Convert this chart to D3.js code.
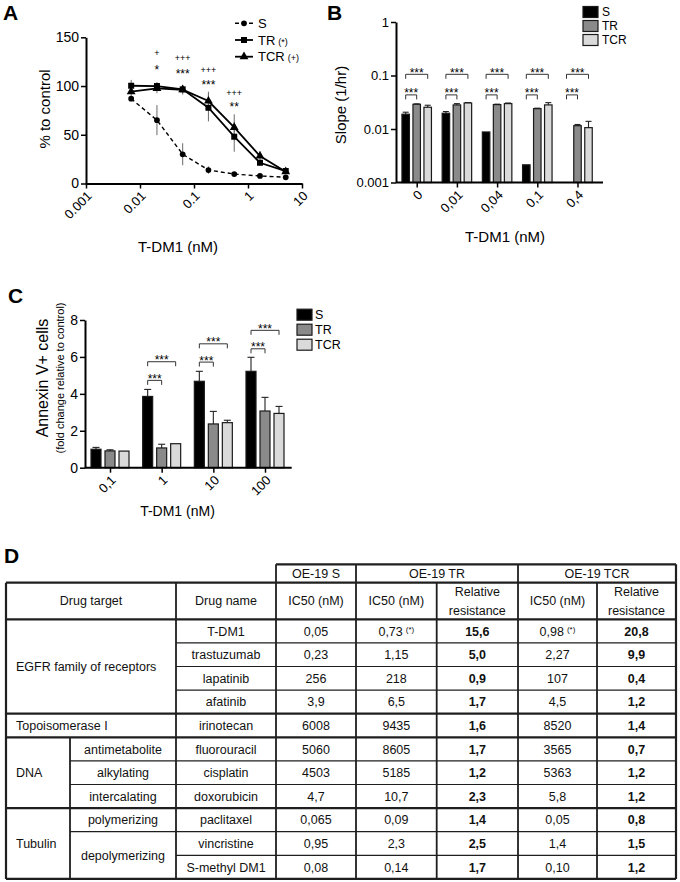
<!DOCTYPE html>
<html><head><meta charset="utf-8">
<script src="https://cdn.jsdelivr.net/npm/d3@7"></script>
<style>body{margin:0;background:#fff} svg{display:block} text{font-family:"Liberation Sans",Arial,sans-serif}</style>
</head><body><svg id="c" width="680" height="882"></svg>
<script>
// ---------------- DATA ----------------
// Panel A: dose-response (% to control)
const concA = [0.00686, 0.0206, 0.0617, 0.185, 0.556, 1.667, 5];
const meanA_S = [87, 65, 30, 13.8, 9.7, 7.7, 6.4];
const errA_S = [2, 15.4, 11.3, 3.8, 1.5, 1, 1];
const meanA_TR = [100.3, 100, 96.6, 77.7, 48, 21.3, 12.8];
const errA_TR = [6, 4, 4, 14, 15.4, 3, 2];
const meanA_TCR = [94.2, 97.6, 96.2, 84.6, 57.6, 28.2, 12.1];
const errA_TCR = [5, 5, 5, 9.6, 13.4, 5, 2];
const ticksA_x = [0.001, 0.01, 0.1, 1, 10];
const tickLabelsA_x = ["0.001", "0.01", "0.1", "1", "10"];
const ticksA_y = [0, 50, 100, 150];
const sigConcA = [0.0206, 0.0617, 0.185, 0.556];
const sigPlusA = ["+", "+++", "+++", "+++"];
const sigPlusYA = [134, 129, 116.4, 93.1];
const sigStarA = ["*", "***", "***", "**"];
const sigStarYA = [119.8, 115.7, 104.4, 81.5];

// Panel B: growth slope (1/hr), log scale
const catsB = ["0", "0,01", "0,04", "0,1", "0,4"];
const valB_S = [0.0189, 0.0197, 0.0088, 0.00214, null];
const errB_S = [0.0017, 0.0015, 0, 0, 0];
const valB_TR = [0.029, 0.0282, 0.0286, 0.024, 0.01153];
const errB_TR = [0.0005, 0.0016, 0.0005, 0.0005, 0.0006];
const valB_TCR = [0.0255, 0.0307, 0.0298, 0.0282, 0.0106];
const errB_TCR = [0.0023, 0.0005, 0.0008, 0.0029, 0.0033];
const ticksB_y = [0.001, 0.01, 0.1, 1];
const tickLabelsB_y = ["0.001", "0.01", "0.1", "1"];
const brkB_low = [0.0434, 0.0434, 0.0434, 0.0434, 0.0434];
const brkB_high = [0.1053, 0.1053, 0.1053, 0.1053, 0.1053];

// Panel C: Annexin V+ cells (fold change)
const catsC = ["0,1", "1", "10", "100"];
const valC_S = [1.0, 3.86, 4.68, 5.22];
const errC_S = [0.1, 0.38, 0.54, 0.76];
const valC_TR = [0.91, 1.07, 2.37, 3.07];
const errC_TR = [0.06, 0.2, 0.68, 0.74];
const valC_TCR = [0.9, 1.3, 2.44, 2.94];
const errC_TCR = [0, 0, 0.13, 0.38];
const ticksC_y = [0, 2, 4, 6, 8];
const brkC_groups = [1, 2, 3];
const brkC_low = [4.73, 5.72, 6.44];
const brkC_high = [5.74, 6.71, 7.44];

const seriesNames = ["S", "TR", "TCR"];
const seriesFill = ["#000000", "#8a8a8a", "#dadada"];

// Panel D: table
const targetGroups = ["EGFR family of receptors", "Topoisomerase I", "DNA", "Tubulin"];
const targetStart = [0, 4, 5, 8];
const targetRows = [4, 1, 3, 3];
const subTargets = ["antimetabolite", "alkylating", "intercalating", "polymerizing", "depolymerizing"];
const subStart = [5, 6, 7, 8, 9];
const subRows = [1, 1, 1, 1, 2];
const drugNames = ["T-DM1", "trastuzumab", "lapatinib", "afatinib", "irinotecan", "fluorouracil", "cisplatin", "doxorubicin", "paclitaxel", "vincristine", "S-methyl DM1"];
const icS = ["0,05", "0,23", "256", "3,9", "6008", "5060", "4503", "4,7", "0,065", "0,95", "0,08"];
const icTR = ["0,73", "1,15", "218", "6,5", "9435", "8605", "5185", "10,7", "0,09", "2,3", "0,14"];
const rrTR = ["15,6", "5,0", "0,9", "1,7", "1,6", "1,7", "1,2", "2,3", "1,4", "2,5", "1,7"];
const icTCR = ["0,98", "2,27", "107", "4,5", "8520", "3565", "5363", "5,8", "0,05", "1,4", "0,10"];
const rrTCR = ["20,8", "9,9", "0,4", "1,2", "1,4", "0,7", "1,2", "1,2", "0,8", "1,5", "1,2"];
const noteTR = ["(*)", "", "", "", "", "", "", "", "", "", ""];
const noteTCR = ["(*)", "", "", "", "", "", "", "", "", "", ""];
const headerGroups = ["OE-19 S", "OE-19 TR", "OE-19 TCR"];

// ---------------- DRAWING ----------------
const svg = d3.select("#c");
const FONT = '"Liberation Sans", Arial, sans-serif';

function panelLabel(t, x, y) {
  svg.append("text").attr("x", x).attr("y", y).attr("font-size", 21)
    .attr("font-weight", "bold").attr("fill", "#000").text(t);
}
function styleAxis(g, fs) {
  g.select(".domain").attr("stroke", "#000").attr("stroke-width", 2);
  g.selectAll(".tick line").attr("stroke", "#000").attr("stroke-width", 1.5);
  g.selectAll(".tick text").attr("font-size", fs).attr("fill", "#000").attr("font-family", FONT);
}
function rotTicks(g) {
  g.selectAll(".tick text").attr("x", 0).attr("y", 0).attr("dy", "0.35em")
    .attr("transform", "translate(3,10) rotate(-45)").attr("text-anchor", "end");
}
function bracket(g, x1, x2, y, label) {
  g.append("path").attr("d", `M${x1},${y + 4.5}V${y}H${x2}V${y + 4.5}`)
    .attr("fill", "none").attr("stroke", "#333").attr("stroke-width", 1);
  g.append("text").attr("x", (x1 + x2) / 2).attr("y", y + 2.5).attr("text-anchor", "middle")
    .attr("font-size", 12).attr("fill", "#000").text(label);
}

// ===== Panel A =====
panelLabel("A", 3, 20);
const xA = d3.scaleLog().domain([0.001, 10]).range([86, 302]);
const yA = d3.scaleLinear().domain([0, 150]).range([183.5, 37.3]);
const gA = svg.append("g");
const axAx = gA.append("g").attr("transform", `translate(0,${yA(0)})`)
  .call(d3.axisBottom(xA).tickValues(ticksA_x).tickFormat((d, i) => tickLabelsA_x[i]).tickSize(5).tickSizeOuter(0));
styleAxis(axAx, 13); rotTicks(axAx);
const axAy = gA.append("g").attr("transform", `translate(${xA(0.001)},0)`)
  .call(d3.axisLeft(yA).tickValues(ticksA_y).tickSize(5).tickPadding(2).tickSizeOuter(0));
styleAxis(axAy, 14);
gA.append("text").attr("transform", `translate(50,109) rotate(-90)`).attr("text-anchor", "middle")
  .attr("font-size", 15).text("% to control");
gA.append("text").attr("x", 178).attr("y", 252).attr("text-anchor", "middle")
  .attr("font-size", 15).text("T-DM1 (nM)");

const seriesA = [
  { m: meanA_S, e: errA_S, dash: "4,3", w: 1.4, mk: "circle" },
  { m: meanA_TR, e: errA_TR, dash: null, w: 1.8, mk: "square" },
  { m: meanA_TCR, e: errA_TCR, dash: null, w: 1.8, mk: "triangle" }
];
seriesA.forEach(s => {
  concA.forEach((c, i) => {
    gA.append("line").attr("x1", xA(c)).attr("x2", xA(c))
      .attr("y1", yA(s.m[i] - s.e[i])).attr("y2", yA(s.m[i] + s.e[i]))
      .attr("stroke", "#6a6a6a").attr("stroke-width", 1);
  });
});
const lineA = d3.line().x(d => xA(d[0])).y(d => yA(d[1]));
seriesA.forEach(s => {
  gA.append("path").attr("d", lineA(concA.map((c, i) => [c, s.m[i]])))
    .attr("fill", "none").attr("stroke", "#000").attr("stroke-width", s.w)
    .attr("stroke-dasharray", s.dash);
});
const symMap = { circle: d3.symbolCircle, square: d3.symbolSquare, triangle: d3.symbolTriangle };
const symSize = { circle: 26, square: 36, triangle: 34 };
seriesA.forEach(s => {
  concA.forEach((c, i) => {
    gA.append("path").attr("d", d3.symbol(symMap[s.mk], symSize[s.mk])())
      .attr("transform", `translate(${xA(c)},${yA(s.m[i])})`).attr("fill", "#000");
  });
});
sigConcA.forEach((c, i) => {
  gA.append("text").attr("x", xA(c)).attr("y", yA(sigPlusYA[i]) + 3.2).attr("text-anchor", "middle")
    .attr("font-size", 9).attr("fill", "#000").text(sigPlusA[i]);
  gA.append("text").attr("x", xA(c)).attr("y", yA(sigStarYA[i]) + 7).attr("text-anchor", "middle")
    .attr("font-size", 12).attr("fill", "#000").text(sigStarA[i]);
});
// legend A
const legA = gA.append("g");
const legNotes = ["", "(*)", "(+)"];
seriesA.forEach((s, i) => {
  const y = 23.3 + i * 16.7;
  legA.append("line").attr("x1", 235).attr("x2", 253).attr("y1", y).attr("y2", y)
    .attr("stroke", "#000").attr("stroke-width", s.w).attr("stroke-dasharray", s.dash);
  legA.append("path").attr("d", d3.symbol(symMap[s.mk], symSize[s.mk])())
    .attr("transform", `translate(244,${y})`).attr("fill", "#000");
  const t = legA.append("text").attr("x", 258).attr("y", y).attr("dy", "0.36em").attr("font-size", 13).text(seriesNames[i]);
  if (legNotes[i]) t.append("tspan").attr("font-size", 9).attr("dx", 3).text(legNotes[i]);
});

// ===== Panel B =====
panelLabel("B", 327, 20);
const yB = d3.scaleLog().domain([0.001, 1]).range([182.5, 22]);
const xB = d3.scalePoint().domain(catsB).range([416.7, 577.5]);
const gB = svg.append("g");
const offB = [-11, 0, 11], bwB = 7.5;
const valsB = [valB_S, valB_TR, valB_TCR], errsB = [errB_S, errB_TR, errB_TCR];
valsB.forEach((vals, s) => {
  vals.forEach((v, i) => {
    if (v == null) return;
    const cx = xB(catsB[i]) + offB[s];
    const e = errsB[s][i];
    if (e > 0) {
      gB.append("line").attr("x1", cx).attr("x2", cx).attr("y1", yB(v)).attr("y2", yB(v + e))
        .attr("stroke", "#222").attr("stroke-width", 1.1);
      gB.append("line").attr("x1", cx - 3).attr("x2", cx + 3).attr("y1", yB(v + e)).attr("y2", yB(v + e))
        .attr("stroke", "#222").attr("stroke-width", 1.1);
    }
    gB.append("rect").attr("x", cx - bwB / 2).attr("width", bwB)
      .attr("y", yB(v)).attr("height", yB(0.001) - yB(v))
      .attr("fill", seriesFill[s]).attr("stroke", "#1a1a1a").attr("stroke-width", 1.2);
  });
});
const axBx = gB.append("g").attr("transform", `translate(0,${yB(0.001)})`)
  .call(d3.axisBottom(xB).tickSize(5).tickSizeOuter(0));
axBx.select(".domain").remove();
styleAxis(axBx, 13); rotTicks(axBx);
gB.append("line").attr("x1", 396).attr("x2", 603).attr("y1", yB(0.001)).attr("y2", yB(0.001))
  .attr("stroke", "#000").attr("stroke-width", 2);
const axBy = gB.append("g").attr("transform", "translate(396,0)")
  .call(d3.axisLeft(yB).tickValues(ticksB_y).tickFormat((d, i) => tickLabelsB_y[i]).tickSize(5).tickPadding(2).tickSizeOuter(0));
styleAxis(axBy, 13);
gB.append("text").attr("transform", "translate(346,105) rotate(-90)").attr("text-anchor", "middle")
  .attr("font-size", 15).text("Slope (1/hr)");
gB.append("text").attr("x", 505).attr("y", 242).attr("text-anchor", "middle")
  .attr("font-size", 15).text("T-DM1 (nM)");
catsB.forEach((c, i) => {
  const x0 = xB(c) + offB[0], x1 = xB(c) + offB[1], x2 = xB(c) + offB[2];
  bracket(gB, x0, x2, yB(brkB_high[i]), "***");
  bracket(gB, x0, x1, yB(brkB_low[i]), "***");
});
seriesNames.forEach((n, i) => {
  const y = 12 + i * 14;
  gB.append("rect").attr("x", 583).attr("y", y - 5.5).attr("width", 15).attr("height", 11)
    .attr("fill", seriesFill[i]).attr("stroke", "#1a1a1a").attr("stroke-width", 1.2);
  gB.append("text").attr("x", 602).attr("y", y).attr("dy", "0.36em").attr("font-size", 12).text(n);
});

// ===== Panel C =====
panelLabel("C", 8, 303);
const yC = d3.scaleLinear().domain([0, 8]).range([467.7, 320]);
const xC = d3.scalePoint().domain(catsC).range([110, 265]);
const gC = svg.append("g");
const offC = [-14, 0, 14], bwC = 10;
const valsC = [valC_S, valC_TR, valC_TCR], errsC = [errC_S, errC_TR, errC_TCR];
valsC.forEach((vals, s) => {
  vals.forEach((v, i) => {
    const cx = xC(catsC[i]) + offC[s];
    const e = errsC[s][i];
    if (e > 0) {
      gC.append("line").attr("x1", cx).attr("x2", cx).attr("y1", yC(v)).attr("y2", yC(v + e))
        .attr("stroke", "#222").attr("stroke-width", 1.1);
      gC.append("line").attr("x1", cx - 3.5).attr("x2", cx + 3.5).attr("y1", yC(v + e)).attr("y2", yC(v + e))
        .attr("stroke", "#222").attr("stroke-width", 1.1);
    }
    gC.append("rect").attr("x", cx - bwC / 2).attr("width", bwC)
      .attr("y", yC(v)).attr("height", yC(0) - yC(v))
      .attr("fill", seriesFill[s]).attr("stroke", "#1a1a1a").attr("stroke-width", 1.2);
  });
});
const axCx = gC.append("g").attr("transform", `translate(0,${yC(0)})`)
  .call(d3.axisBottom(xC).tickSize(5).tickSizeOuter(0));
axCx.select(".domain").remove();
styleAxis(axCx, 13); rotTicks(axCx);
gC.append("line").attr("x1", 85).attr("x2", 291.7).attr("y1", yC(0)).attr("y2", yC(0))
  .attr("stroke", "#000").attr("stroke-width", 2);
const axCy = gC.append("g").attr("transform", "translate(85,0)")
  .call(d3.axisLeft(yC).tickValues(ticksC_y).tickSize(5).tickPadding(2).tickSizeOuter(0));
styleAxis(axCy, 14);
gC.append("text").attr("transform", "translate(48,378) rotate(-90)").attr("text-anchor", "middle")
  .attr("font-size", 16).text("Annexin V+ cells");
gC.append("text").attr("transform", "translate(64,378) rotate(-90)").attr("text-anchor", "middle")
  .attr("font-size", 11).text("(fold change relative to control)");
gC.append("text").attr("x", 177.5).attr("y", 516).attr("text-anchor", "middle")
  .attr("font-size", 14).text("T-DM1 (nM)");
brkC_groups.forEach((gi, k) => {
  const c = catsC[gi];
  bracket(gC, xC(c) + offC[0], xC(c) + offC[1], yC(brkC_low[k]), "***");
  bracket(gC, xC(c) + offC[0], xC(c) + offC[2], yC(brkC_high[k]), "***");
});
seriesNames.forEach((n, i) => {
  const y = 314.7 + i * 15;
  gC.append("rect").attr("x", 297).attr("y", y - 5.5).attr("width", 15).attr("height", 11)
    .attr("fill", seriesFill[i]).attr("stroke", "#1a1a1a").attr("stroke-width", 1.2);
  gC.append("text").attr("x", 315).attr("y", y).attr("dy", "0.36em").attr("font-size", 12.5).text(n);
});

// ===== Panel D: table =====
panelLabel("D", 4, 563);
const gD = svg.append("g");
const colX = [6, 70, 176, 276, 356, 436.7, 518, 597, 676];
const h1Top = 564.3, h2Top = 582.7, bodyTop = 619.3, rowH = 23.6;
const nRows = drugNames.length;
const bottom = bodyTop + nRows * rowH;
const rowY = i => bodyTop + i * rowH;
const FS = 12.5;
const THICK = 2.2, MID = 1.8, THIN = 1.2;
function hline(x1, x2, y, w) { gD.append("line").attr("x1", x1).attr("x2", x2).attr("y1", y).attr("y2", y).attr("stroke", "#1f1f1f").attr("stroke-width", w); }
function vline(x, y1, y2, w) { gD.append("line").attr("x1", x).attr("x2", x).attr("y1", y1).attr("y2", y2).attr("stroke", "#1f1f1f").attr("stroke-width", w); }
function cellText(x, yc, t, anchor, bold) {
  return gD.append("text").attr("x", x).attr("y", yc + 4.4).attr("text-anchor", anchor || "middle")
    .attr("font-size", FS).attr("font-weight", bold ? "bold" : "normal").attr("fill", "#111").text(t);
}
// horizontal lines
hline(colX[3], colX[8], h1Top, THICK);
hline(colX[0], colX[8], h2Top, THICK);
hline(colX[0], colX[8], bodyTop, THICK);
for (let i = 1; i < nRows; i++) {
  if (targetStart.includes(i)) { hline(colX[0], colX[8], rowY(i), THICK); continue; }
  const inSubStart = subStart.includes(i);
  hline(inSubStart ? colX[1] : colX[2], colX[8], rowY(i), THIN);
}
hline(colX[0], colX[8], bottom, THICK);
// vertical lines
vline(colX[0], h2Top, bottom, THICK);
vline(colX[1], rowY(subStart[0]), bottom, MID);
vline(colX[2], h2Top, bottom, MID);
vline(colX[3], h1Top, bottom, MID);
vline(colX[4], h1Top, bottom, MID);
vline(colX[5], h2Top, bottom, MID);
vline(colX[6], h1Top, bottom, MID);
vline(colX[7], h2Top, bottom, MID);
vline(colX[8], h1Top, bottom, THICK);
// header row 1
const h1c = (h1Top + h2Top) / 2;
cellText((colX[3] + colX[4]) / 2, h1c, headerGroups[0]);
cellText((colX[4] + colX[6]) / 2, h1c, headerGroups[1]);
cellText((colX[6] + colX[8]) / 2, h1c, headerGroups[2]);
// header row 2
const h2c = (h2Top + bodyTop) / 2;
cellText((colX[0] + colX[2]) / 2, h2c, "Drug target");
cellText((colX[2] + colX[3]) / 2, h2c, "Drug name");
[3, 4, 6].forEach(k => cellText((colX[k] + colX[k + 1]) / 2, h2c, "IC50 (nM)"));
[5, 7].forEach(k => {
  cellText((colX[k] + colX[k + 1]) / 2, h2c - 9.3, "Relative");
  cellText((colX[k] + colX[k + 1]) / 2, h2c + 9.3, "resistance");
});
// target groups
targetGroups.forEach((t, i) => {
  const yc = rowY(targetStart[i]) + targetRows[i] * rowH / 2;
  cellText(16, yc, t, "start");
});
subTargets.forEach((t, i) => {
  const yc = rowY(subStart[i]) + subRows[i] * rowH / 2;
  cellText((colX[1] + colX[2]) / 2, yc, t);
});
// body cells
drugNames.forEach((d, i) => {
  const yc = rowY(i) + rowH / 2;
  cellText((colX[2] + colX[3]) / 2, yc, d);
  cellText((colX[3] + colX[4]) / 2, yc, icS[i]);
  const t1 = cellText((colX[4] + colX[5]) / 2, yc, icTR[i]);
  if (noteTR[i]) t1.append("tspan").attr("font-size", 8).attr("dx", 3).attr("dy", -4).text(noteTR[i]);
  cellText((colX[5] + colX[6]) / 2, yc, rrTR[i], "middle", true);
  const t2 = cellText((colX[6] + colX[7]) / 2, yc, icTCR[i]);
  if (noteTCR[i]) t2.append("tspan").attr("font-size", 8).attr("dx", 3).attr("dy", -4).text(noteTCR[i]);
  cellText((colX[7] + colX[8]) / 2, yc, rrTCR[i], "middle", true);
});
</script>
</body></html>
